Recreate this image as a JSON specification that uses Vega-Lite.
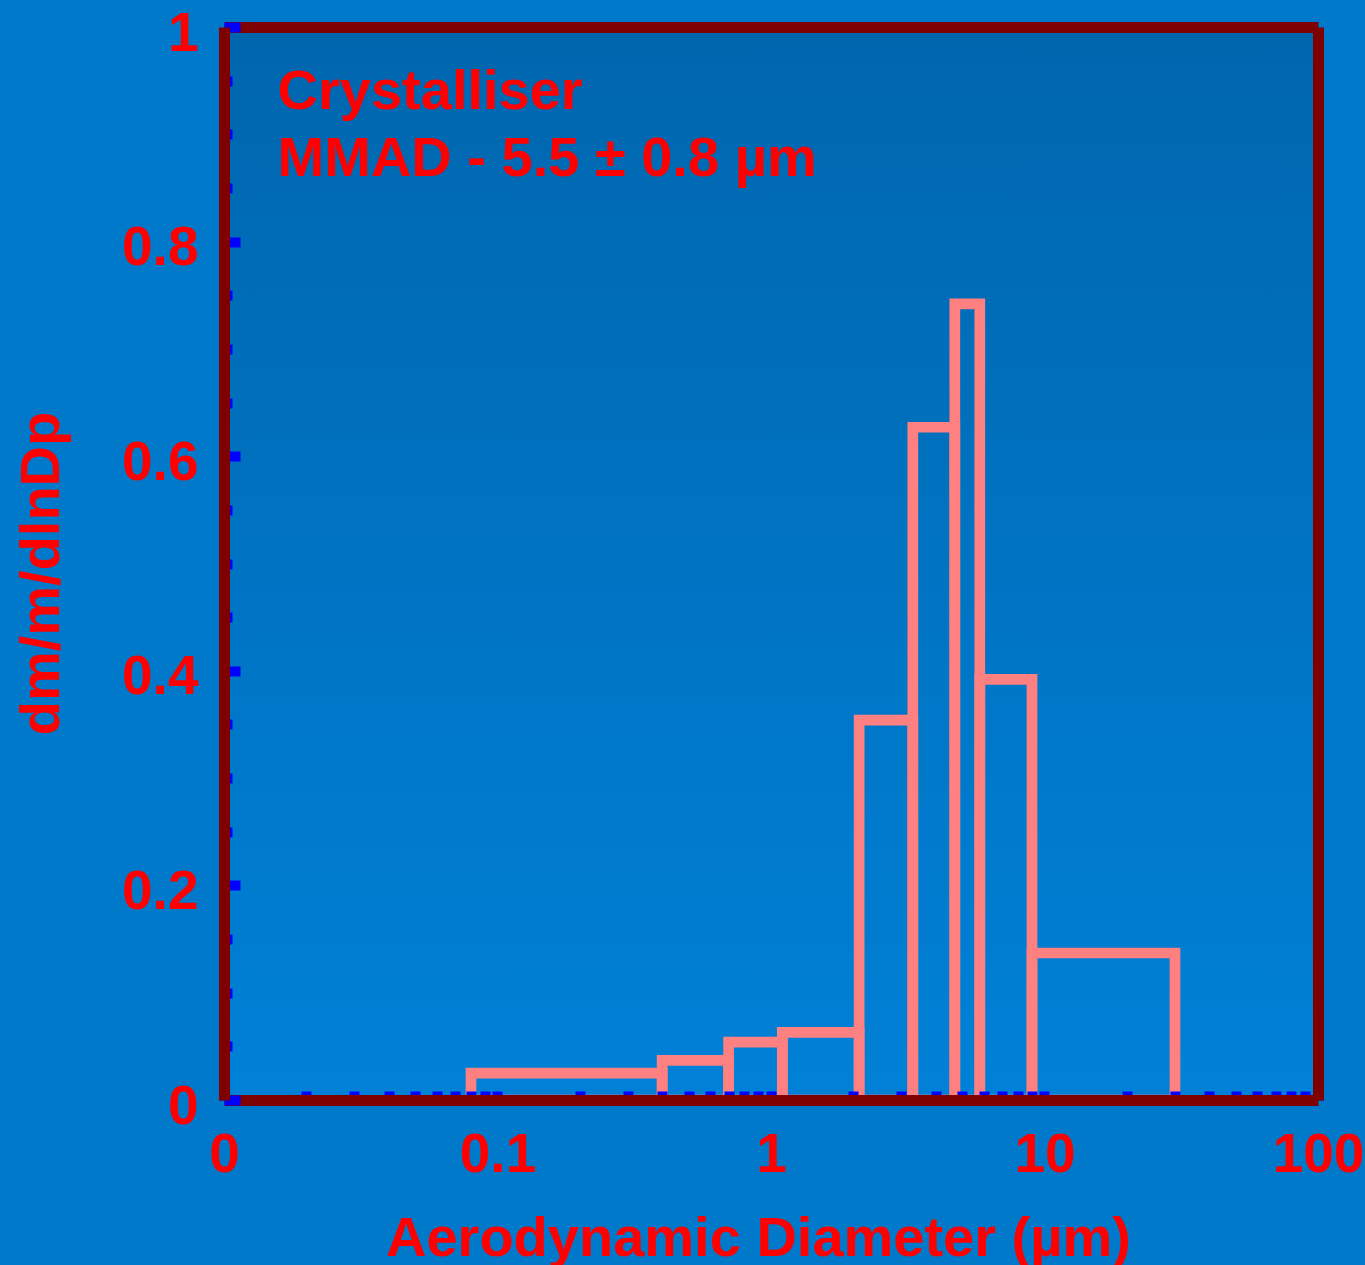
{
  "$schema": "https://vega.github.io/schema/vega-lite/v6.json",
  "width": 1094,
  "height": 1073,
  "autosize": "none",
  "padding": {"left": 224, "top": 27, "right": 47, "bottom": 165},
  "background": "#0079CB",
  "config": {
    "view": {"stroke": null},
    "font": "Liberation Sans",
    "axis": {
      "grid": false,
      "domainColor": "#7F0000",
      "domainWidth": 11,
      "labelFont": "Liberation Sans",
      "labelFontSize": 55,
      "labelFontWeight": "bold",
      "labelColor": "#FF0000",
      "labelOverlap": false,
      "labelFlush": false,
      "labelBound": false,
      "titleFont": "Liberation Sans",
      "titleFontSize": 55,
      "titleFontWeight": "bold",
      "titleColor": "#FF0000",
      "tickColor": "#0000FF",
      "tickWidth": 10
    }
  },
  "datasets": {
    "bins": [
      {"lo": 0.08, "hi": 0.4, "v": 0.025},
      {"lo": 0.4, "hi": 0.7, "v": 0.037},
      {"lo": 0.7, "hi": 1.1, "v": 0.054},
      {"lo": 1.1, "hi": 2.1, "v": 0.063},
      {"lo": 2.1, "hi": 3.3, "v": 0.354},
      {"lo": 3.3, "hi": 4.7, "v": 0.627},
      {"lo": 4.7, "hi": 5.8, "v": 0.742},
      {"lo": 5.8, "hi": 9.0, "v": 0.392},
      {"lo": 9.0, "hi": 30, "v": 0.137}
    ],
    "notes": [
      {"label": "Crystalliser", "x": 0.0157, "y": 0.9233},
      {"label": "MMAD - 5.5 ± 0.8 µm", "x": 0.0157, "y": 0.8614}
    ]
  },
  "layer": [
    {
      "data": {"values": [{}]},
      "mark": {
        "type": "rect",
        "fill": {
          "gradient": "linear",
          "x1": 0, "y1": 0, "x2": 0, "y2": 1,
          "stops": [
            {"offset": 0, "color": "#0066AE"},
            {"offset": 1, "color": "#0081D7"}
          ]
        }
      },
      "encoding": {}
    },
    {
      "data": {"name": "bins"},
      "mark": {"type": "rect", "filled": false, "color": "#FF8080", "strokeWidth": 10.7},
      "encoding": {
        "x": {
          "field": "lo",
          "type": "quantitative",
          "scale": {"type": "log", "domain": [0.01, 100], "nice": false},
          "axis": {
            "orient": "bottom",
            "zindex": 1,
            "values": [0.01,0.02,0.03,0.04,0.05,0.06,0.07,0.08,0.09,0.1,0.2,0.3,0.4,0.5,0.6,0.7,0.8,0.9,1,2,3,4,5,6,7,8,9,10,20,30,40,50,60,70,80,90,100],
            "labelExpr": "datum.value == 0.01 ? '0' : (datum.value == 0.1 || datum.value == 1 || datum.value == 10 || datum.value == 100) ? '' + datum.value : ''",
            "tickSize": -9,
            "labelPadding": 37,
            "labelAlign": "center",
            "labelBaseline": "top",
            "title": "Aerodynamic Diameter (µm)",
            "titleX": 534,
            "titleY": 155,
            "titleBaseline": "alphabetic",
            "titleAlign": "center",
            "titleFontSize": 56
          }
        },
        "x2": {"field": "hi"},
        "y": {
          "field": "v",
          "type": "quantitative",
          "scale": {"domain": [0, 1], "nice": false, "zero": true},
          "axis": {
            "orient": "left",
            "zindex": 1,
            "values": [0,0.05,0.1,0.15,0.2,0.25,0.3,0.35,0.4,0.45,0.5,0.55,0.6,0.65,0.7,0.75,0.8,0.85,0.9,0.95,1],
            "labelExpr": "abs(datum.value*5 - round(datum.value*5)) < 1e-6 ? '' + datum.value : ''",
            "tickSize": {"condition": {"test": "abs(datum.value*5 - round(datum.value*5)) < 1e-6", "value": -16}, "value": -8},
            "labelPadding": 42,
            "labelOffset": 6,
            "labelAlign": "right",
            "labelBaseline": "middle",
            "title": "dm/m/dlnDp",
            "titleX": -166,
            "titleY": 546,
            "titleAngle": -90,
            "titleBaseline": "alphabetic",
            "titleAlign": "center",
            "titleFontSize": 56
          }
        },
        "y2": {"datum": 0}
      }
    },
    {
      "data": {"name": "notes"},
      "mark": {"type": "text", "align": "left", "baseline": "alphabetic", "fontSize": 56, "fontWeight": "bold", "color": "#FF0000", "font": "Liberation Sans"},
      "encoding": {
        "x": {"field": "x", "type": "quantitative", "axis": {"orient": "top", "zindex": 1, "labels": false, "ticks": false, "title": null}},
        "y": {"field": "y", "type": "quantitative", "axis": {"orient": "right", "zindex": 1, "labels": false, "ticks": false, "title": null}},
        "text": {"field": "label"}
      }
    }
  ],
  "resolve": {"axis": {"x": "independent", "y": "independent"}}
}
